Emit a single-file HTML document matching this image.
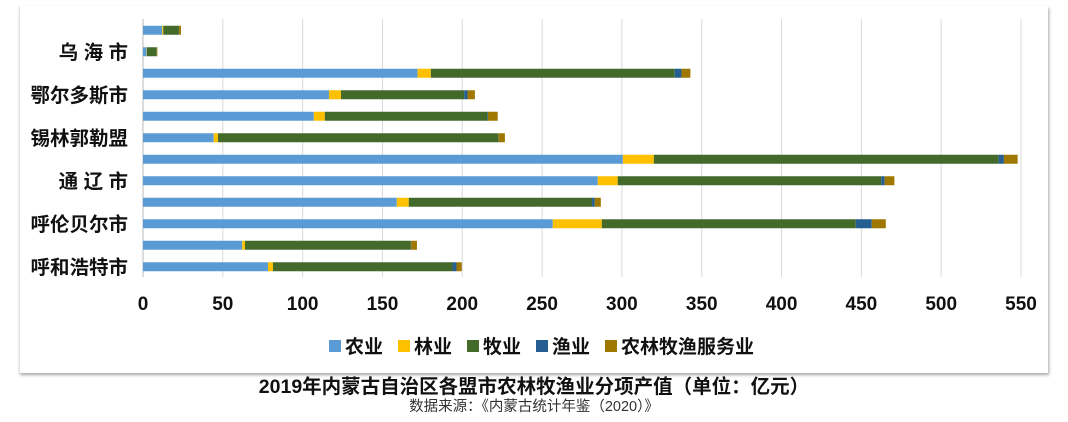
<!DOCTYPE html>
<html><head><meta charset="utf-8"><style>
body{margin:0;width:1068px;height:422px;background:#fff;overflow:hidden;font-family:"Liberation Sans","Noto Sans CJK SC",sans-serif;}
#card{position:absolute;left:19px;top:6px;width:1028px;height:367px;background:#fff;box-shadow:1px 2px 3px rgba(0,0,0,0.35);border-left:1px solid #e4e4e4;}
.t{position:absolute;left:0;width:1068px;text-align:center;}
</style></head><body>
<div id="card"></div>
<svg id="chart" width="1068" height="380" style="position:absolute;left:0;top:0"></svg>
<div class="t" style="top:375px;font-size:19.5px;font-weight:bold;color:#111;line-height:24px">2019年内蒙古自治区各盟市农林牧渔业分项产值（单位：亿元）</div>
<div class="t" style="top:398px;font-size:14.5px;color:#333;line-height:18px">数据来源：《内蒙古统计年鉴（2020）》</div>
<script>
const categories=["","乌 海 市","","鄂尔多斯市","","锡林郭勒盟","","通 辽 市","","呼伦贝尔市","","呼和浩特市"];
const seriesNames=["农业","林业","牧业","渔业","农林牧渔服务业"];
const agri=[12,2.3,172,116.5,107,44.3,300.6,284.9,159,256.7,62.2,78.3];
const forest=[0.7,0.2,8.3,7.5,6.9,2.7,19.4,12.5,7.5,30.7,1.7,3.1];
const herd=[9.8,6,152.8,77.2,101.8,175.5,216,165.1,114.8,159.1,103.9,112.5];
const fish=[0.1,0.1,4.2,2.1,0.4,0.2,3.3,2.1,1.7,10,0.2,2.5];
const service=[1.2,0.4,5.6,4.6,6.1,4,8.6,6.1,3.8,8.8,3.6,3.3];
const ticks=[0,50,100,150,200,250,300,350,400,450,500,550];
const colors=["#5b9bd5","#ffc000","#446a2a","#255e91","#9e7800"];
const series=[agri,forest,herd,fish,service];
const svg=document.getElementById('chart');const NS="http://www.w3.org/2000/svg";
const x0=143,x1=1021,top0=19.5,slot=21.5,bh=9;
const xs=v=>x0+(v/550)*(x1-x0);
const yc=i=>top0+slot*(i+0.5);
function mk(tag,attrs){const e=document.createElementNS(NS,tag);for(const k in attrs)e.setAttribute(k,attrs[k]);svg.appendChild(e);return e;}
ticks.forEach(t=>{
 const g=mk('line',{x1:xs(t),x2:xs(t),y1:19,y2:277,stroke:t===0?'#d0d0d0':'#d9d9d9','stroke-width':t===0?1.5:1});
 
 
 const l=mk('text',{x:xs(t),y:310,'text-anchor':'middle','font-size':19,'font-weight':'bold',fill:'#111'});
 l.textContent=t;
 
 
});
categories.forEach((c,i)=>{
 let acc=0;
 series.forEach((s,k)=>{
  const r=mk('rect',{x:xs(acc),y:yc(i)-bh/2,width:Math.max(0,xs(acc+s[i])-xs(acc)),height:bh,fill:colors[k]});
  
  
  acc+=s[i];
 });
 if(c){
  const t=mk('text',{x:128,y:yc(i)+7,'text-anchor':'end','font-size':19.5,'font-weight':'bold',fill:'#111'});
  t.textContent=c;
  
  
 }
});
let lx=329;
seriesNames.forEach((n,k)=>{
 const r=mk('rect',{x:lx,y:340,width:12,height:12,fill:colors[k]});
 
 
 const t=mk('text',{x:lx+16,y:353,'font-size':19,'font-weight':'bold',fill:'#111'});
 t.textContent=n;
 
 
 lx+=69;
});
</script>
</body></html>
